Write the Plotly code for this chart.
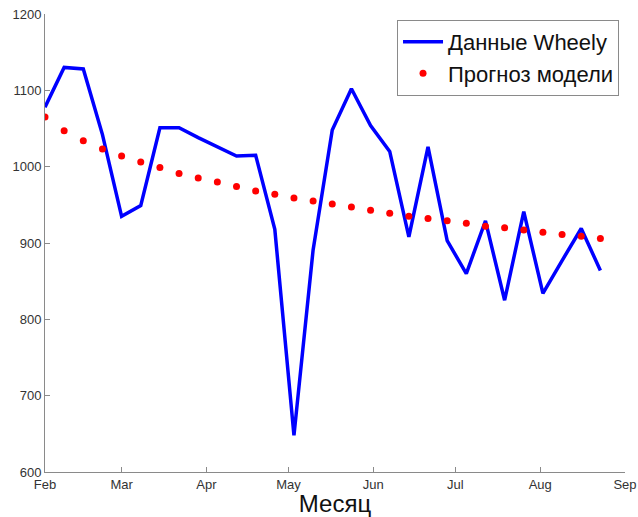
import pandas as pd
import plotly.graph_objects as go

# Weekly observations starting 1 Feb 2015
dates = pd.date_range("2015-02-01", periods=30, freq="7D")

wheely_data = [1078, 1130, 1128, 1042, 935, 949, 1051, 1051, 1038, 1026,
               1014, 1015, 918, 648, 891, 1048, 1102, 1054, 1020, 908,
               1026, 903, 860, 929, 825, 941, 834, 877, 919, 864]

model_forecast = [1065, 1047, 1034, 1023, 1014, 1006, 999, 991, 985, 980,
                  974, 968, 964, 959, 955, 951, 947, 943, 939, 935,
                  932, 929, 926, 922, 920, 917, 914, 911, 909, 906]

month_ticks = ["2015-02-01", "2015-03-01", "2015-04-01", "2015-05-01",
               "2015-06-01", "2015-07-01", "2015-08-01", "2015-09-01"]
month_labels = ["Feb", "Mar", "Apr", "May", "Jun", "Jul", "Aug", "Sep"]

y_ticks = [600, 700, 800, 900, 1000, 1100, 1200]

FONT = "Liberation Sans, Arial, sans-serif"

fig = go.Figure()
fig.add_trace(go.Scatter(
    x=dates, y=wheely_data, mode="lines", name="Данные Wheely",
    line=dict(color="#0000ff", width=3.5),
))
fig.add_trace(go.Scatter(
    x=dates, y=model_forecast, mode="markers", name="Прогноз модели",
    marker=dict(color="#ff0000", size=7),
))

axis_common = dict(
    showgrid=False, zeroline=False, showline=True, linecolor="#8a8a8a",
    linewidth=1, ticks="inside", ticklen=5, tickcolor="#8a8a8a",
    automargin=False,
    tickfont=dict(family=FONT, size=13, color="#333333"),
)

fig.update_layout(
    width=638, height=517,
    margin=dict(l=45, r=13, t=14, b=45),
    paper_bgcolor="white", plot_bgcolor="white",
    showlegend=True,
    legend=dict(
        x=0.9897, y=0.987, xanchor="right", yanchor="top",
        bgcolor="white", bordercolor="#8a8a8a", borderwidth=1,
        font=dict(family=FONT, size=22, color="#111111"),
        tracegroupgap=0, itemwidth=40,
    ),
)
fig.update_xaxes(
    **axis_common,
    range=["2015-02-01", "2015-09-01"],
    tickvals=month_ticks, ticktext=month_labels,
    ticklabelstandoff=0,
    title=dict(text="Месяц", standoff=4,
               font=dict(family=FONT, size=24, color="#111111")),
)
fig.update_yaxes(
    **axis_common,
    range=[600, 1200],
    tickvals=y_ticks,
)

fig.write_html("out.html")
